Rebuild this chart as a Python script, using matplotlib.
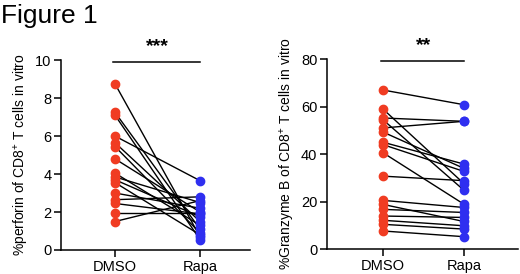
import matplotlib
matplotlib.use("Agg")
import matplotlib.pyplot as plt

plt.rcParams['font.family'] = ['Liberation Sans', 'DejaVu Sans']
plt.rcParams['mathtext.fontset'] = 'custom'
plt.rcParams['mathtext.rm'] = 'Liberation Sans'
plt.rcParams['mathtext.it'] = 'Liberation Sans'

groups = ["DMSO", "Rapa"]

perforin_dmso = [8.75, 7.25, 7.1, 6.0, 5.65, 5.45, 4.8, 4.05, 3.85, 3.7, 3.55, 3.0, 2.65, 2.45, 1.95, 1.5]
perforin_rapa = [0.7, 1.1, 0.55, 3.65, 1.5, 0.9, 2.0, 1.3, 2.5, 1.75, 0.8, 2.2, 2.8, 1.9, 1.95, 2.6]

granzyme_dmso = [67, 59, 55.2, 54.5, 51, 49.3, 45, 44, 40.6, 30.7, 20.5, 18.8, 16.7, 13.9, 12.1, 10.4, 7.6]
granzyme_rapa = [60.8, 27.6, 53.8, 24.8, 53.8, 34.0, 35.8, 32.7, 18.9, 28.8, 17.5, 11.6, 15.4, 13.3, 9.8, 8.4, 5.2]

red = "#f03c22"
blue = "#2f2ff0"

fig = plt.figure(figsize=(5.2, 2.74), dpi=100)
fig.text(0.002, 0.985, "Figure 1", fontsize=19, ha="left", va="top")

def panel(rect, dmso, rapa, ymax, yticks, ylabel, xlim, stars):
    ax = fig.add_axes(rect)
    for a, b in zip(dmso, rapa):
        ax.plot([0, 1], [a, b], color="black", lw=1.0, zorder=2)
    ax.plot([0] * len(dmso), dmso, 'o', color=red, ms=6, zorder=3, mec=red)
    ax.plot([1] * len(rapa), rapa, 'o', color=blue, ms=6, zorder=3, mec=blue)
    ax.set_xlim(*xlim)
    ax.set_ylim(0, ymax)
    ax.set_yticks(yticks)
    ax.set_xticks([0, 1])
    ax.set_xticklabels(groups, fontsize=10.5)
    ax.tick_params(axis='y', labelsize=10.5, width=1.1, length=5, pad=2)
    ax.tick_params(axis='x', width=1.1, length=5, pad=2)
    for s in ["top", "right"]:
        ax.spines[s].set_visible(False)
    for s in ["left", "bottom"]:
        ax.spines[s].set_linewidth(1.1)
    ax.set_ylabel(ylabel, fontsize=10, labelpad=3)
    ax.plot([-0.02, 1.0], [ymax * 0.99, ymax * 0.99], color="black", lw=1.1, clip_on=False)
    ax.text(0.5, ymax * 1.025, stars, ha="center", va="bottom", fontsize=14, fontweight="bold")
    return ax

panel([0.1173, 0.0876, 0.3635, 0.693], perforin_dmso, perforin_rapa, 10, [0, 2, 4, 6, 8, 10],
      r"%perforin of CD8$^{+}$ T cells in vitro", (-0.635, 1.588), "***")
panel([0.6288, 0.0912, 0.367, 0.693], granzyme_dmso, granzyme_rapa, 80, [0, 20, 40, 60, 80],
      r"%Granzyme B of CD8$^{+}$ T cells in vitro", (-0.691, 1.667), "**")

fig.savefig("out.png", dpi=100)
